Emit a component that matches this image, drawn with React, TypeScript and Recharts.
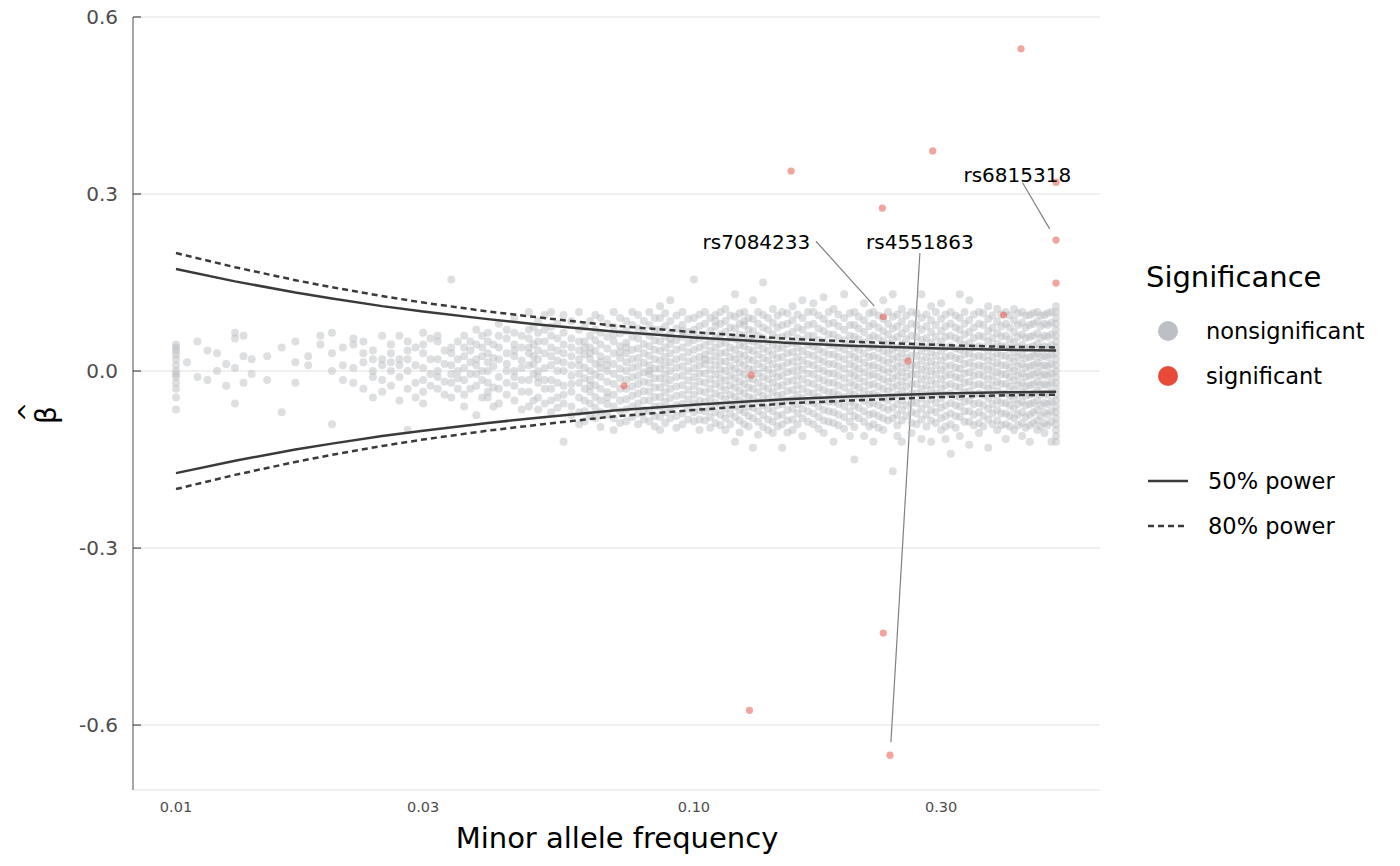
import React from "react";
import {
  ScatterChart,
  Scatter,
  XAxis,
  YAxis,
  CartesianGrid,
  ReferenceLine,
  ReferenceDot,
} from "recharts";

// nonsignificant variants, grouped by minor allele frequency column: [maf, betas]
const NS_COLUMNS: [number, number[]][] = [
  [0.01, [0.045, 0.035, 0.028, 0.02, 0.01, 0.0, -0.01, -0.02, -0.03, -0.045, -0.065, 0.04, -0.005]],
  [0.0105, [0.015]],
  [0.011, [0.05, -0.01]],
  [0.0115, [0.035, -0.015]],
  [0.012, [0.03, 0.0]],
  [0.0125, [-0.025, 0.012]],
  [0.013, [0.065, 0.055, 0.005, -0.055]],
  [0.0135, [0.025, 0.06, -0.02]],
  [0.014, [-0.005, 0.02]],
  [0.015, [0.025, -0.015]],
  [0.016, [-0.07, 0.04]],
  [0.017, [0.015, -0.02, 0.05]],
  [0.018, [0.025, 0.01]],
  [0.019, [0.045, 0.06]],
  [0.02, [0.065, -0.09, 0.0, 0.03]],
  [0.021, [0.01, -0.015, 0.04]],
  [0.022, [0.055, -0.02, 0.045, 0.005]],
  [0.023, [0.03, 0.015, -0.03, 0.05]],
  [0.024, [0.02, -0.01, 0.0, 0.035, -0.045]],
  [0.025, [0.06, -0.035, 0.02, 0.01, -0.015]],
  [0.026, [0.045, 0.0, -0.025, 0.03, 0.015]],
  [0.027, [0.06, -0.05, 0.02, -0.01, 0.01]],
  [0.028, [-0.1, 0.035, 0.0, -0.03, 0.05, 0.02]],
  [0.029, [0.04, -0.02, 0.01, -0.045]],
  [0.03, [0.065, 0.03, -0.015, 0.005, -0.035, 0.045, -0.055]],
  [0.031, [0.02, -0.025, 0.055, -0.005]],
  [0.032, [0.05, 0.0, -0.03, 0.02, 0.06, -0.01]],
  [0.033, [0.035, -0.04, 0.012, -0.018]],
  [0.034, [0.155, 0.04, 0.01, -0.02, -0.045, 0.03, -0.005]],
  [0.035, [0.05, -0.03, 0.02, 0.0, -0.012]],
  [0.036, [0.06, 0.025, -0.015, 0.005, -0.04, 0.04, -0.06]],
  [0.037, [0.035, -0.005, 0.015, -0.03, 0.05]],
  [0.038, [0.07, 0.02, -0.025, 0.045, -0.005, 0.01, -0.075]],
  [0.039, [0.04, 0.0, -0.045, 0.025, -0.015, 0.06]],
  [0.04, [0.065, 0.03, -0.02, 0.0, 0.05, -0.045, 0.015, -0.035]],
  [0.041, [0.045, 0.008, -0.028, 0.022, -0.06]],
  [0.042, [0.08, 0.04, -0.01, 0.02, -0.03, 0.06, -0.055]],
  [0.0435, [0.055, 0.012, -0.04, 0.03, -0.02, 0.07, 0.0]],
  [0.045, [0.09, 0.045, 0.0, -0.025, 0.025, -0.05, 0.065, -0.01, 0.035]],
  [0.0465, [0.06, 0.018, -0.035, 0.04, -0.065, 0.005, -0.015]],
  [0.048, [0.1, 0.055, 0.01, -0.035, 0.03, -0.06, -0.015, 0.07, 0.04]],
  [0.049, [0.075, 0.025, -0.005, -0.05, 0.045, 0.012]],
  [0.05, [0.085, 0.05, 0.02, -0.02, 0.0, -0.045, 0.065, -0.065, 0.035, -0.01]],
  [0.0515, [0.07, 0.03, 0.005, -0.03, -0.055, 0.05, -0.015, 0.095]],
  [0.053, [0.1, 0.06, 0.025, -0.03, 0.01, -0.05, 0.04, -0.015, 0.075, -0.07]],
  [0.0545, [0.08, 0.035, 0.0, -0.02, -0.045, 0.055, 0.018, -0.062]],
  [0.056, [0.095, 0.045, 0.015, -0.025, 0.0, -0.055, 0.065, -0.04, 0.03, -0.12]],
  [0.058, [0.085, 0.055, 0.025, -0.008, -0.035, -0.06, 0.04, 0.01, -0.022, -0.075]],
  [0.06, [0.1, 0.07, 0.035, 0.01, -0.02, -0.045, 0.05, -0.07, 0.02, -0.005, -0.09]],
  [0.0615, [0.075, 0.05, 0.028, 0.006, -0.012, -0.03, -0.05, -0.068, 0.04, -0.085]],
  [0.063, [0.085, 0.06, 0.04, 0.02, 0.0, -0.015, -0.035, -0.055, -0.075, 0.03, -0.025]],
  [0.0645, [0.07, 0.052, 0.034, 0.012, -0.006, -0.024, -0.044, -0.062, -0.08, 0.095]],
  [0.066, [0.09, 0.065, 0.045, 0.025, 0.005, -0.01, -0.03, -0.05, -0.07, -0.095, 0.015]],
  [0.068, [0.08, 0.058, 0.038, 0.02, 0.0, -0.018, -0.036, -0.056, -0.074, 0.01, -0.045]],
  [0.07, [0.1, 0.075, 0.05, 0.03, 0.012, -0.005, -0.022, -0.04, -0.06, -0.08, 0.062, -0.1]],
  [0.072, [0.09, 0.064, 0.042, 0.022, 0.004, -0.012, -0.03, -0.05, -0.068, -0.088, 0.032]],
  [0.074, [0.085, 0.068, 0.048, 0.03, 0.015, 0.0, -0.015, -0.03, -0.048, -0.065, -0.085, 0.04]],
  [0.076, [0.1, 0.078, 0.058, 0.036, 0.02, 0.006, -0.01, -0.026, -0.042, -0.06, -0.078]],
  [0.078, [0.095, 0.072, 0.055, 0.038, 0.022, 0.008, -0.008, -0.022, -0.038, -0.055, -0.072, -0.09]],
  [0.08, [0.085, 0.066, 0.046, 0.03, 0.014, -0.002, -0.018, -0.034, -0.05, -0.066, -0.082]],
  [0.082, [0.1, 0.078, 0.06, 0.042, 0.026, 0.01, -0.005, -0.02, -0.035, -0.05, -0.068, -0.085, 0.0]],
  [0.084, [0.09, 0.07, 0.052, 0.036, 0.02, 0.004, -0.012, -0.028, -0.044, -0.06, -0.076, -0.094]],
  [0.086, [0.09, 0.07, 0.05, 0.034, 0.018, 0.004, -0.012, -0.028, -0.044, -0.06, -0.078, 0.11, -0.1]],
  [0.088, [0.098, 0.076, 0.058, 0.04, 0.024, 0.01, -0.006, -0.02, -0.036, -0.052, -0.07, -0.088]],
  [0.09, [0.12, 0.085, 0.064, 0.046, 0.03, 0.015, 0.0, -0.015, -0.03, -0.046, -0.062, -0.08, 0.055]],
  [0.0925, [0.094, 0.072, 0.052, 0.036, 0.02, 0.006, -0.01, -0.026, -0.042, -0.058, -0.076, -0.096]],
  [0.095, [0.1, 0.078, 0.058, 0.04, 0.024, 0.008, -0.008, -0.024, -0.04, -0.056, -0.072, -0.09, 0.068]],
  [0.0975, [0.088, 0.066, 0.048, 0.032, 0.016, 0.0, -0.016, -0.032, -0.048, -0.064, -0.082]],
  [0.1, [0.155, 0.09, 0.07, 0.052, 0.036, 0.02, 0.005, -0.01, -0.025, -0.04, -0.055, -0.07, -0.085, 0.062]],
  [0.1025, [0.096, 0.076, 0.056, 0.04, 0.024, 0.01, -0.004, -0.018, -0.034, -0.05, -0.066, -0.082, -0.1]],
  [0.105, [0.1, 0.08, 0.06, 0.044, 0.028, 0.012, -0.004, -0.02, -0.036, -0.052, -0.068, -0.084, 0.02]],
  [0.1075, [0.09, 0.068, 0.05, 0.034, 0.018, 0.002, -0.014, -0.03, -0.046, -0.062, -0.078, -0.096]],
  [0.11, [0.095, 0.075, 0.056, 0.04, 0.025, 0.01, -0.006, -0.022, -0.038, -0.054, -0.07, -0.088, 0.085]],
  [0.1125, [0.1, 0.08, 0.062, 0.046, 0.03, 0.016, 0.002, -0.012, -0.026, -0.042, -0.058, -0.074, -0.092]],
  [0.115, [0.105, 0.085, 0.066, 0.048, 0.032, 0.016, 0.0, -0.016, -0.032, -0.048, -0.064, -0.08, -0.1]],
  [0.1175, [0.094, 0.074, 0.056, 0.04, 0.024, 0.008, -0.008, -0.024, -0.04, -0.056, -0.072, -0.09]],
  [0.12, [0.13, 0.092, 0.072, 0.054, 0.036, 0.02, 0.004, -0.012, -0.028, -0.044, -0.06, -0.078, -0.12]],
  [0.1225, [0.098, 0.08, 0.062, 0.044, 0.028, 0.014, -0.002, -0.018, -0.034, -0.05, -0.066, -0.084, -0.104]],
  [0.125, [0.1, 0.078, 0.06, 0.042, 0.026, 0.01, -0.006, -0.022, -0.038, -0.054, -0.07, -0.09, 0.085]],
  [0.1275, [0.09, 0.07, 0.052, 0.036, 0.02, 0.004, -0.012, -0.028, -0.044, -0.06, -0.076, -0.094]],
  [0.13, [0.12, 0.088, 0.068, 0.05, 0.034, 0.018, 0.002, -0.014, -0.03, -0.046, -0.062, -0.08, -0.13]],
  [0.133, [0.1, 0.08, 0.06, 0.044, 0.028, 0.012, -0.004, -0.02, -0.036, -0.052, -0.068, -0.086, -0.108]],
  [0.136, [0.15, 0.095, 0.074, 0.056, 0.038, 0.022, 0.006, -0.01, -0.026, -0.042, -0.058, -0.075, -0.095]],
  [0.139, [0.09, 0.07, 0.05, 0.034, 0.018, 0.002, -0.014, -0.03, -0.046, -0.064, -0.082, -0.1]],
  [0.142, [0.105, 0.082, 0.062, 0.044, 0.028, 0.012, -0.004, -0.02, -0.036, -0.052, -0.068, -0.086, -0.105]],
  [0.145, [0.094, 0.074, 0.056, 0.038, 0.022, 0.006, -0.01, -0.026, -0.042, -0.058, -0.076, -0.094]],
  [0.148, [0.1, 0.078, 0.058, 0.04, 0.024, 0.008, -0.008, -0.024, -0.04, -0.056, -0.074, -0.09, -0.13]],
  [0.1515, [0.098, 0.08, 0.062, 0.046, 0.03, 0.014, -0.002, -0.018, -0.034, -0.05, -0.066, -0.084, -0.104]],
  [0.155, [0.11, 0.086, 0.066, 0.048, 0.032, 0.016, 0.0, -0.016, -0.032, -0.048, -0.064, -0.082, -0.1]],
  [0.1585, [0.096, 0.074, 0.056, 0.04, 0.024, 0.008, -0.008, -0.024, -0.04, -0.056, -0.072, -0.09]],
  [0.162, [0.12, 0.09, 0.07, 0.052, 0.034, 0.018, 0.002, -0.014, -0.03, -0.046, -0.064, -0.08, -0.11]],
  [0.166, [0.1, 0.078, 0.06, 0.044, 0.028, 0.012, -0.004, -0.02, -0.036, -0.052, -0.068, -0.086]],
  [0.17, [0.1, 0.08, 0.06, 0.042, 0.026, 0.01, -0.006, -0.022, -0.038, -0.054, -0.072, -0.09, 0.115]],
  [0.174, [0.094, 0.072, 0.052, 0.036, 0.02, 0.004, -0.012, -0.028, -0.044, -0.06, -0.078, -0.098]],
  [0.178, [0.125, 0.088, 0.068, 0.05, 0.032, 0.016, 0.0, -0.016, -0.032, -0.05, -0.066, -0.084, -0.105]],
  [0.182, [0.1, 0.08, 0.062, 0.044, 0.028, 0.012, -0.004, -0.02, -0.036, -0.052, -0.068, -0.086]],
  [0.186, [0.105, 0.082, 0.062, 0.044, 0.028, 0.012, -0.004, -0.02, -0.036, -0.052, -0.07, -0.088, -0.12]],
  [0.19, [0.096, 0.076, 0.056, 0.04, 0.024, 0.008, -0.008, -0.024, -0.04, -0.056, -0.074, -0.092]],
  [0.195, [0.13, 0.09, 0.07, 0.052, 0.036, 0.02, 0.004, -0.012, -0.028, -0.044, -0.06, -0.078, -0.098]],
  [0.2, [0.098, 0.078, 0.06, 0.044, 0.028, 0.012, -0.004, -0.02, -0.036, -0.052, -0.068, -0.086, -0.11]],
  [0.204, [0.1, 0.078, 0.058, 0.04, 0.024, 0.008, -0.008, -0.024, -0.04, -0.058, -0.076, -0.095, -0.15]],
  [0.208, [0.092, 0.072, 0.054, 0.036, 0.02, 0.004, -0.012, -0.028, -0.044, -0.062, -0.08]],
  [0.213, [0.115, 0.086, 0.066, 0.048, 0.03, 0.014, -0.002, -0.018, -0.034, -0.05, -0.068, -0.086, -0.11]],
  [0.218, [0.098, 0.076, 0.056, 0.04, 0.024, 0.008, -0.008, -0.024, -0.04, -0.056, -0.074, -0.094]],
  [0.222, [0.1, 0.08, 0.06, 0.042, 0.026, 0.01, -0.006, -0.022, -0.038, -0.054, -0.072, -0.09, -0.12]],
  [0.227, [0.094, 0.074, 0.056, 0.038, 0.022, 0.006, -0.01, -0.026, -0.042, -0.058, -0.076, -0.096]],
  [0.232, [0.12, 0.088, 0.068, 0.05, 0.034, 0.018, 0.002, -0.014, -0.03, -0.046, -0.062, -0.08, -0.1]],
  [0.237, [0.1, 0.08, 0.062, 0.046, 0.03, 0.014, -0.002, -0.018, -0.034, -0.05, -0.066, -0.084]],
  [0.242, [0.13, 0.092, 0.072, 0.054, 0.036, 0.02, 0.004, -0.012, -0.028, -0.044, -0.062, -0.08, -0.17]],
  [0.247, [0.096, 0.076, 0.058, 0.04, 0.024, 0.008, -0.008, -0.024, -0.04, -0.056, -0.074, -0.092, -0.11]],
  [0.252, [0.105, 0.084, 0.064, 0.046, 0.03, 0.014, -0.002, -0.018, -0.034, -0.05, -0.066, -0.084, -0.12]],
  [0.257, [0.094, 0.072, 0.054, 0.038, 0.022, 0.006, -0.01, -0.026, -0.042, -0.058, -0.076]],
  [0.263, [0.1, 0.08, 0.06, 0.042, 0.026, 0.01, -0.006, -0.022, -0.038, -0.054, -0.07, -0.088, -0.105]],
  [0.269, [0.098, 0.078, 0.058, 0.042, 0.026, 0.01, -0.006, -0.022, -0.038, -0.054, -0.072, -0.09]],
  [0.275, [0.13, 0.09, 0.07, 0.052, 0.034, 0.018, 0.002, -0.014, -0.03, -0.046, -0.064, -0.082, -0.115]],
  [0.281, [0.096, 0.076, 0.056, 0.04, 0.024, 0.008, -0.008, -0.024, -0.04, -0.056, -0.074, -0.094]],
  [0.287, [0.11, 0.086, 0.066, 0.048, 0.032, 0.016, 0.0, -0.016, -0.032, -0.048, -0.066, -0.084, -0.12]],
  [0.293, [0.1, 0.078, 0.058, 0.042, 0.026, 0.01, -0.006, -0.022, -0.038, -0.054, -0.07, -0.088]],
  [0.3, [0.115, 0.088, 0.068, 0.05, 0.034, 0.018, 0.002, -0.014, -0.03, -0.046, -0.062, -0.08, -0.1]],
  [0.306, [0.096, 0.076, 0.058, 0.04, 0.024, 0.008, -0.008, -0.024, -0.04, -0.058, -0.076, -0.094, -0.115]],
  [0.313, [0.1, 0.08, 0.06, 0.042, 0.026, 0.01, -0.006, -0.022, -0.038, -0.054, -0.072, -0.09, -0.14]],
  [0.32, [0.094, 0.074, 0.056, 0.038, 0.022, 0.006, -0.01, -0.026, -0.042, -0.058, -0.076, -0.096]],
  [0.326, [0.13, 0.09, 0.07, 0.052, 0.036, 0.02, 0.004, -0.012, -0.028, -0.044, -0.06, -0.078, -0.11]],
  [0.333, [0.1, 0.08, 0.062, 0.044, 0.028, 0.012, -0.004, -0.02, -0.036, -0.052, -0.068, -0.086]],
  [0.34, [0.12, 0.086, 0.066, 0.048, 0.03, 0.014, -0.002, -0.018, -0.034, -0.05, -0.068, -0.086, -0.125]],
  [0.347, [0.096, 0.074, 0.056, 0.04, 0.024, 0.008, -0.008, -0.024, -0.04, -0.056, -0.074, -0.092]],
  [0.355, [0.1, 0.08, 0.06, 0.042, 0.026, 0.01, -0.006, -0.022, -0.038, -0.054, -0.07, -0.088, -0.105]],
  [0.362, [0.098, 0.078, 0.058, 0.04, 0.024, 0.008, -0.008, -0.024, -0.04, -0.058, -0.076, -0.094]],
  [0.37, [0.11, 0.088, 0.068, 0.05, 0.034, 0.018, 0.002, -0.014, -0.03, -0.046, -0.064, -0.082, -0.13]],
  [0.377, [0.094, 0.074, 0.056, 0.04, 0.024, 0.008, -0.008, -0.024, -0.04, -0.056, -0.072, -0.09]],
  [0.385, [0.105, 0.084, 0.064, 0.046, 0.03, 0.014, -0.002, -0.018, -0.034, -0.05, -0.066, -0.084, -0.1]],
  [0.392, [0.096, 0.076, 0.058, 0.042, 0.026, 0.01, -0.006, -0.022, -0.038, -0.054, -0.072, -0.092]],
  [0.4, [0.1, 0.08, 0.06, 0.042, 0.026, 0.01, -0.006, -0.022, -0.038, -0.054, -0.072, -0.09, -0.115]],
  [0.407, [0.094, 0.074, 0.054, 0.038, 0.022, 0.006, -0.01, -0.026, -0.042, -0.058, -0.076, -0.094]],
  [0.415, [0.105, 0.086, 0.066, 0.048, 0.032, 0.016, 0.0, -0.016, -0.032, -0.048, -0.064, -0.08, -0.1]],
  [0.422, [0.098, 0.078, 0.058, 0.04, 0.024, 0.008, -0.008, -0.024, -0.04, -0.056, -0.074, -0.092]],
  [0.43, [0.1, 0.082, 0.062, 0.044, 0.028, 0.012, -0.004, -0.02, -0.036, -0.052, -0.07, -0.088, -0.11]],
  [0.437, [0.094, 0.074, 0.056, 0.038, 0.022, 0.006, -0.01, -0.026, -0.042, -0.058, -0.078, -0.096]],
  [0.445, [0.095, 0.078, 0.058, 0.04, 0.024, 0.008, -0.008, -0.024, -0.04, -0.056, -0.074, -0.092, -0.12]],
  [0.452, [0.098, 0.08, 0.06, 0.042, 0.026, 0.01, -0.006, -0.022, -0.038, -0.054, -0.07, -0.088]],
  [0.46, [0.1, 0.084, 0.064, 0.046, 0.03, 0.014, -0.002, -0.018, -0.034, -0.05, -0.066, -0.084, -0.1]],
  [0.467, [0.094, 0.076, 0.056, 0.04, 0.024, 0.008, -0.008, -0.024, -0.04, -0.058, -0.076, -0.094]],
  [0.475, [0.095, 0.08, 0.06, 0.042, 0.026, 0.01, -0.006, -0.022, -0.038, -0.054, -0.07, -0.088, -0.105]],
  [0.482, [0.098, 0.078, 0.058, 0.04, 0.024, 0.008, -0.008, -0.024, -0.04, -0.056, -0.074, -0.092]],
  [0.49, [0.1, 0.082, 0.062, 0.044, 0.028, 0.012, -0.004, -0.02, -0.036, -0.052, -0.068, -0.086, -0.12]],
  [0.5, [0.11, 0.1, 0.09, 0.08, 0.07, 0.06, 0.05, 0.04, 0.03, 0.02, 0.01, 0.0, -0.01, -0.02, -0.03, -0.04, -0.05, -0.06, -0.07, -0.08, -0.09, -0.1, -0.11, -0.12]],
];

// significant variants
const SIG_MAF = [0.428, 0.289, 0.154, 0.5, 0.231, 0.5, 0.5, 0.396, 0.232, 0.259, 0.129, 0.0733, 0.232, 0.128, 0.239];
const SIG_BETA = [0.546, 0.373, 0.339, 0.32, 0.276, 0.222, 0.149, 0.095, 0.092, 0.017, -0.007, -0.025, -0.444, -0.575, -0.651];

// power curves read at these frequencies
const CURVE_MAF = [0.01, 0.013, 0.017, 0.02, 0.025, 0.03, 0.04, 0.05, 0.07, 0.1, 0.15, 0.2, 0.3, 0.4, 0.5];
const POWER50 = [0.173, 0.152, 0.133, 0.123, 0.11, 0.101, 0.088, 0.079, 0.067, 0.057, 0.048, 0.043, 0.038, 0.036, 0.035];
const POWER80 = [0.2, 0.176, 0.154, 0.142, 0.127, 0.116, 0.101, 0.091, 0.077, 0.066, 0.055, 0.05, 0.044, 0.041, 0.04];

const X_TICKS = [0.01, 0.03, 0.1, 0.3];
const X_TICK_LABELS = ["0.01", "0.03", "0.10", "0.30"];
const Y_TICKS = [-0.6, -0.3, 0, 0.3, 0.6];

const LABELS = [
  { name: "rs6815318", text: [0.421, 0.333], from: [0.431, 0.319], to: [0.486, 0.241] },
  { name: "rs7084233", text: [0.132, 0.219], from: [0.172, 0.22], to: [0.223, 0.11] },
  { name: "rs4551863", text: [0.273, 0.219], from: [0.273, 0.2], to: [0.24, -0.629] },
];

const nsData = NS_COLUMNS.flatMap(([x, ys]) => ys.map((y) => ({ x, y })));
const sigData = SIG_MAF.map((x, i) => ({ x, y: SIG_BETA[i] }));
const curve = (vals: number[], sign: number) => CURVE_MAF.map((x, i) => ({ x, y: sign * vals[i] }));

const FONT = "'DejaVu Sans', sans-serif";
const noDot = () => <g />;

const XTick = ({ x, y, payload }: any) => (
  <text x={x} y={y + 14} textAnchor="middle" fontSize={14.5} fill="#4d4d4d" fontFamily={FONT}>
    {X_TICK_LABELS[X_TICKS.indexOf(payload.value)] ?? ""}
  </text>
);

const YTick = ({ x, y, payload }: any) => (
  <g>
    <line x1={125} x2={133} y1={y} y2={y} stroke="#4d4d4d" strokeWidth={1.2} />
    <text x={110} y={y + 7} textAnchor="end" fontSize={20} fill="#4d4d4d" fontFamily={FONT}>
      {payload.value.toFixed(1)}
    </text>
  </g>
);

export default function App() {
  return (
    <div style={{ position: "relative", width: 1392, height: 858, fontFamily: FONT }}>
      <ScatterChart width={1392} height={858} margin={{ top: 9, right: 300, bottom: 36, left: 65 }}>
        <CartesianGrid vertical={false} stroke="#ebebeb" strokeWidth={1.5} />
        <XAxis
          type="number"
          dataKey="x"
          scale="log"
          domain={[0.00826, 0.608]}
          ticks={X_TICKS}
          axisLine={false}
          tickLine={false}
          height={40}
          tick={<XTick />}
          allowDataOverflow
        />
        <YAxis
          type="number"
          dataKey="y"
          domain={[-0.71, 0.6]}
          ticks={Y_TICKS}
          width={60}
          stroke="#4d4d4d"
          tickLine={false}
          tick={<YTick />}
          allowDataOverflow
        />
        <Scatter data={nsData} isAnimationActive={false} shape={(p: any) => <circle cx={p.cx} cy={p.cy} r={4} fill="#bcc0c4" fillOpacity={0.5} />} />
        <Scatter data={curve(POWER50, 1)} line={{ stroke: "#3a3a3a", strokeWidth: 2.5 }} lineType="joint" shape={noDot} isAnimationActive={false} />
        <Scatter data={curve(POWER50, -1)} line={{ stroke: "#3a3a3a", strokeWidth: 2.5 }} lineType="joint" shape={noDot} isAnimationActive={false} />
        <Scatter data={curve(POWER80, 1)} line={{ stroke: "#3a3a3a", strokeWidth: 2.5, strokeDasharray: "6 4" }} lineType="joint" shape={noDot} isAnimationActive={false} />
        <Scatter data={curve(POWER80, -1)} line={{ stroke: "#3a3a3a", strokeWidth: 2.5, strokeDasharray: "6 4" }} lineType="joint" shape={noDot} isAnimationActive={false} />
        <Scatter data={sigData} isAnimationActive={false} shape={(p: any) => <circle cx={p.cx} cy={p.cy} r={3.6} fill="#e84a3a" fillOpacity={0.5} />} />
        {LABELS.map((l) => (
          <ReferenceLine
            key={l.name + "l"}
            segment={[{ x: l.from[0], y: l.from[1] }, { x: l.to[0], y: l.to[1] }]}
            stroke="#808080"
            strokeWidth={1.2}
            ifOverflow="visible"
          />
        ))}
        {LABELS.map((l) => (
          <ReferenceDot
            key={l.name}
            x={l.text[0]}
            y={l.text[1]}
            r={0}
            ifOverflow="visible"
            label={{ value: l.name, position: "center", fill: "#000", fontSize: 20, fontFamily: FONT }}
          />
        ))}
      </ScatterChart>
      <div style={{ position: "absolute", left: 409, top: 813, width: 400, textAlign: "center", fontSize: 29, color: "#000" }}>
        Minor allele frequency
      </div>
      <div style={{ position: "absolute", left: 22, top: 416, transform: "rotate(-90deg)", transformOrigin: "left top", fontSize: 28 }}>
        <span style={{ position: "relative" }}>
          β<span style={{ position: "absolute", left: 2, top: -16, fontSize: 24 }}>^</span>
        </span>
      </div>
      <div style={{ position: "absolute", left: 1138, top: 252, fontSize: 22.5, color: "#000" }}>
        <div style={{ fontSize: 29, marginBottom: 14 }}>Significance</div>
        <div style={{ display: "flex", alignItems: "center", height: 45 }}>
          <span style={{ width: 20, height: 20, borderRadius: 10, background: "#bcc0c4", marginLeft: 12, marginRight: 28 }} />
          nonsignificant
        </div>
        <div style={{ display: "flex", alignItems: "center", height: 45 }}>
          <span style={{ width: 20, height: 20, borderRadius: 10, background: "#e84a3a", marginLeft: 12, marginRight: 28 }} />
          significant
        </div>
        <div style={{ height: 60 }} />
        <div style={{ display: "flex", alignItems: "center", height: 45 }}>
          <svg width={40} height={6} style={{ marginLeft: 2, marginRight: 20 }}>
            <line x1={0} y1={3} x2={40} y2={3} stroke="#3a3a3a" strokeWidth={2.5} />
          </svg>
          50% power
        </div>
        <div style={{ display: "flex", alignItems: "center", height: 45 }}>
          <svg width={40} height={6} style={{ marginLeft: 2, marginRight: 20 }}>
            <line x1={0} y1={3} x2={40} y2={3} stroke="#3a3a3a" strokeWidth={2.5} strokeDasharray="6 4" />
          </svg>
          80% power
        </div>
      </div>
    </div>
  );
}
